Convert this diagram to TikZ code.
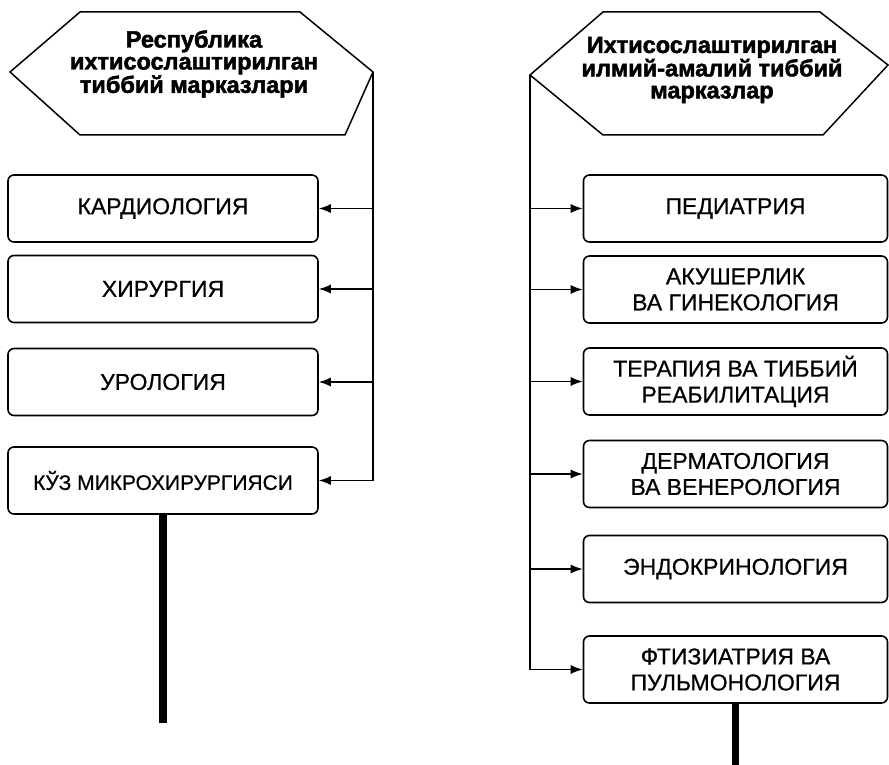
\documentclass[tikz,border=0pt]{standalone}
\usepackage{fontspec}
\setmainfont{Liberation Sans}
\newfontfamily\heavyfont{Liberation Sans}[BoldFeatures={FakeBold=2}]
\newfontfamily\boxfont{Liberation Sans}[FakeBold=0.6]
\usetikzlibrary{arrows.meta}
\tikzset{
  dept/.style={draw, line width=1.6pt, rounded corners=6pt, minimum height=67pt,
    align=center, inner sep=0pt, font=\boxfont\fontsize{23}{26}\selectfont},
  leftdept/.style={dept, minimum width=310pt},
  rightdept/.style={dept, minimum width=304pt},
  hexline/.style={line width=1.5pt, line join=miter},
  conn/.style={line width=1.3pt},
  arr/.style={conn, -{Latex[length=12pt,width=9pt]}},
  titletext/.style={align=center, inner sep=0pt, font=\heavyfont\bfseries\fontsize{23.5}{22}\selectfont},
  trunk/.style={line width=8pt}
}
\begin{document}
\begin{tikzpicture}[x=1pt,y=-1pt]
\useasboundingbox (0,0) rectangle (889,765);
% left hexagon
\coordinate (lh1) at (80,12);
\coordinate (lh2) at (300,12);
\coordinate (lhR) at (373,72);
\coordinate (lh4) at (345,135);
\coordinate (lh5) at (80,135);
\coordinate (lhL) at (10,72);
\draw[hexline] (lh1) -- (lh2) -- (lhR) -- (lh4) -- (lh5) -- (lhL) -- cycle;
\node[titletext] (lt) at (194,64) {Республика\\ихтисослаштирилган\\тиббий\ марказлари};
% right hexagon
\coordinate (rh1) at (603,12);
\coordinate (rh2) at (820,12);
\coordinate (rhR) at (888,65);
\coordinate (rh4) at (823,135);
\coordinate (rh5) at (603,135);
\coordinate (rhL) at (530,75);
\draw[hexline] (rh1) -- (rh2) -- (rhR) -- (rh4) -- (rh5) -- (rhL) -- cycle;
\node[titletext] (rt) at (712,70) {Ихтисослаштирилган\\илмий-амалий\ тиббий\\марказлар};
% left boxes
\node[leftdept] (k1) at (163,208.5) {КАРДИОЛОГИЯ};
\node[leftdept] (k2) at (163,289) {ХИРУРГИЯ};
\node[leftdept] (k3) at (163,382) {УРОЛОГИЯ};
\node[leftdept, font=\boxfont\fontsize{21}{26}\selectfont] (k4) at (163,480.5) {КЎЗ МИКРОХИРУРГИЯСИ};
% right boxes
\node[rightdept] (p1) at (735.5,208.5) {ПЕДИАТРИЯ};
\node[rightdept] (p2) at (735.5,289.5) {АКУШЕРЛИК\\ВА\ ГИНЕКОЛОГИЯ};
\node[rightdept] (p3) at (735.5,381.5) {ТЕРАПИЯ ВА\ ТИББИЙ\\РЕАБИЛИТАЦИЯ};
\node[rightdept] (p4) at (735.5,474) {ДЕРМАТОЛОГИЯ\\ВА\ ВЕНЕРОЛОГИЯ};
\node[rightdept] (p5) at (735.5,569) {ЭНДОКРИНОЛОГИЯ};
\node[rightdept] (p6) at (735.5,669.5) {ФТИЗИАТРИЯ ВА\\ПУЛЬМОНОЛОГИЯ};
% left connectors
\draw[conn] (lhR) -- (lhR |- k4.east);
\foreach \b in {k1,k2,k3,k4} \draw[arr] (lhR |- \b.east) -- (\b.east);
% right connectors
\draw[conn] (rhL) -- (rhL |- p6.west);
\foreach \b in {p1,p2,p3,p4,p5,p6} \draw[arr] (rhL |- \b.west) -- (\b.west);
% trunks
\coordinate (lend) at (164,723);
\coordinate (rend) at (737,765);
\draw[trunk] (k4.south) -- (k4.south |- lend);
\draw[trunk, line width=7pt] (p6.south) -- (p6.south |- rend);
\end{tikzpicture}
\end{document}
